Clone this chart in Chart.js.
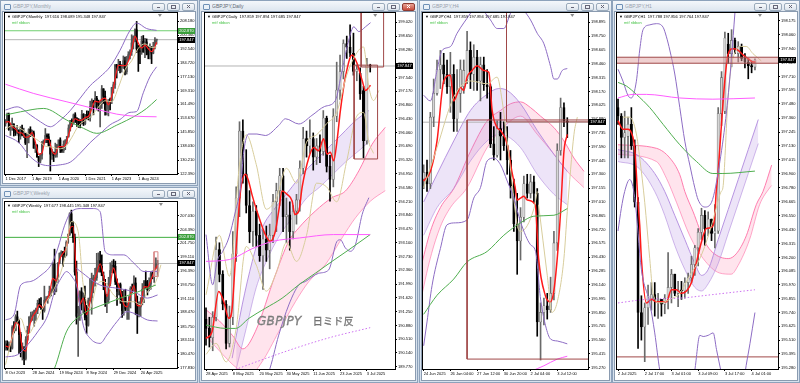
<!DOCTYPE html>
<html>
<head>
<meta charset="utf-8">
<script src="https://cdn.jsdelivr.net/npm/chart.js@4.4.1/dist/chart.umd.min.js"></script>
<style>
html,body{margin:0;padding:0}
body{width:800px;height:383px;background:#cbd8e6;position:relative;overflow:hidden;font-family:"Liberation Sans",Arial,sans-serif}
.win{position:absolute;box-sizing:border-box;border:1px solid #8da2bb;background:#d7e2ee}
.tb{position:absolute;left:0;right:0;top:0;height:11px;background:linear-gradient(#f4f7fb,#dbe4ee)}
.ic{position:absolute;left:3px;top:3px;width:5px;height:4px;border:1px solid #6f90b6;border-radius:1px;background:#eaf1f8}
.tt{position:absolute;left:12px;top:1px;font-size:10px;line-height:18px;color:#98a2ad;transform:scale(.5);transform-origin:0 0;white-space:nowrap}
.bts{position:absolute;right:2px;top:2px;display:flex;gap:2px}
.bt{width:11px;height:6px;border:1px solid #9aaabb;border-radius:2px;background:linear-gradient(#f8fafc,#dce4ed);position:relative}
.bt.mn::after{content:"";position:absolute;left:4px;top:3px;width:3px;height:1px;background:#667}
.bt.mx::after{content:"";position:absolute;left:3px;top:1px;width:3px;height:2px;border:1px solid #667}
.bt.cl::after{content:"";position:absolute;left:4px;top:1px;width:3px;height:3px;background:linear-gradient(45deg,transparent 40%,#667 40%,#667 60%,transparent 60%),linear-gradient(-45deg,transparent 40%,#667 40%,#667 60%,transparent 60%)}
.bt.act{background:linear-gradient(#e9a597,#c8493a);border-color:#8e3a30}
.bt.act::after{background:linear-gradient(45deg,transparent 40%,#fff 40%,#fff 60%,transparent 60%),linear-gradient(-45deg,transparent 40%,#fff 40%,#fff 60%,transparent 60%)}
.cli{position:absolute;left:1px;right:1px;top:10px;bottom:1px;background:#fff;border:1px solid #8a9bb0}
canvas{position:absolute}
.wm{position:absolute;left:257px;top:313px;font-size:12px;font-style:italic;color:#8a8a8a;white-space:nowrap;font-family:"DejaVu Sans",sans-serif;text-shadow:0 0 1px #fff;-webkit-text-stroke:0.3px #666;letter-spacing:0.3px}
.wm span{font-style:normal;font-size:10px;font-family:"Noto Sans CJK JP",sans-serif;margin-left:11px}
</style>
</head>
<body>

<div class="win" style="left:0;top:0;width:198px;height:186px"><div class="tb"><div class="ic"></div><div class="tt">GBPJPY,Monthly</div><div class="bts"><div class="bt mn"></div><div class="bt mx"></div><div class="bt cl"></div></div></div><div class="cli"></div></div>
<div class="win" style="left:0;top:187px;width:198px;height:196px"><div class="tb"><div class="ic"></div><div class="tt">GBPJPY,Weekly</div><div class="bts"><div class="bt mn"></div><div class="bt mx"></div><div class="bt cl"></div></div></div><div class="cli"></div></div>
<div class="win" style="left:199px;top:0;width:219px;height:383px"><div class="tb"><div class="ic"></div><div class="tt" style="color:#606a75">GBPJPY,Daily</div><div class="bts"><div class="bt mn"></div><div class="bt mx"></div><div class="bt cl act"></div></div></div><div class="cli"></div></div>
<div class="win" style="left:419px;top:0;width:193px;height:383px"><div class="tb"><div class="ic"></div><div class="tt">GBPJPY,H4</div><div class="bts"><div class="bt mn"></div><div class="bt mx"></div><div class="bt cl"></div></div></div><div class="cli"></div></div>
<div class="win" style="left:612px;top:0;width:188px;height:383px"><div class="tb"><div class="ic"></div><div class="tt">GBPJPY,H1</div><div class="bts"><div class="bt mn"></div><div class="bt mx"></div><div class="bt cl"></div></div></div><div class="cli"></div></div>

<canvas id="cM" width="192" height="171" style="left:3px;top:12px"></canvas>
<canvas id="cW" width="192" height="181" style="left:3px;top:199px"></canvas>
<canvas id="cD" width="213" height="368" style="left:202px;top:12px"></canvas>
<canvas id="cH4" width="187" height="368" style="left:422px;top:12px"></canvas>
<canvas id="cH1" width="182" height="368" style="left:615px;top:12px"></canvas>
<div class="wm">GBPJPY<span>日ミド反</span></div>

<script>
// ---------- Monthly ----------
const monthlyOHLC = [
[150.6,152.9,149.2,152.1],[152.1,156.6,151.5,155.9],[155.9,156.6,146.9,147.3],[147.3,150.9,144.0,149.1],[149.1,153.8,146.8,150.4],
[150.4,150.6,143.7,147.2],[147.2,148.2,144.0,145.6],[145.6,149.7,144.9,146.9],[146.9,147.2,139.9,143.8],[143.8,149.0,141.9,148.1],
[148.1,149.8,143.7,144.2],[144.2,148.1,142.8,145.0],[145.0,145.3,138.9,139.8],[139.8,144.8,131.5,142.7],[142.7,147.8,139.8,147.4],
[147.4,148.9,143.4,144.0],[144.0,147.0,143.7,145.5],[145.5,146.5,136.8,136.9],[136.9,138.9,134.4,138.4],[138.4,138.9,131.6,132.1],
[132.1,132.2,126.5,129.7],[129.7,133.9,128.7,132.9],[132.9,140.7,130.7,140.0],[140.0,141.0,138.2,141.5],[141.5,147.9,139.9,144.0],
[144.0,144.9,140.0,143.3],[143.3,144.9,138.6,138.0],[138.0,141.4,124.0,133.5],[133.5,136.4,130.6,134.5],[134.5,134.7,129.3,132.6],
[132.6,139.7,131.7,133.4],[133.4,139.0,131.8,138.5],[138.5,141.4,137.4,141.5],[141.5,142.7,134.4,136.2],[136.2,137.6,134.5,135.5],
[135.5,141.0,134.4,139.0],[139.0,141.7,136.0,141.1],[141.1,143.0,139.3,143.5],[143.5,150.0,143.0,148.2],[148.2,152.5,146.5,152.4],
[152.4,153.4,149.0,151.1],[151.1,156.1,150.3,155.6],[155.6,156.8,151.3,153.4],[153.4,154.0,149.1,152.6],[152.6,153.5,148.5,151.4],
[151.4,152.9,148.3,150.5],[150.5,158.2,150.5,155.9],[155.9,156.3,149.6,150.6],[150.6,155.7,150.0,155.8],[155.8,157.8,153.0,154.5],
[154.5,157.7,152.7,154.0],[154.0,163.4,152.1,160.3],[160.3,164.6,159.0,162.7],[162.7,163.8,155.6,162.3],[162.3,168.7,159.7,164.9],
[164.9,166.0,158.4,162.4],[162.4,163.9,157.7,161.2],[161.2,163.4,148.8,161.6],[161.6,172.1,159.2,170.2],[170.2,170.3,162.0,166.0],
[166.0,169.0,155.4,158.7],[158.7,163.0,155.5,161.0],[161.0,163.8,155.0,164.2],[164.2,165.0,158.3,163.5],[163.5,171.1,161.9,170.9],
[170.9,174.0,167.8,172.5],[172.5,184.0,170.5,183.5],[183.5,184.0,176.3,182.8],[182.8,186.8,180.4,184.0],[184.0,185.7,179.2,182.1],
[182.1,183.8,179.6,183.8],[183.8,188.7,181.6,186.0],[186.0,188.0,178.0,179.8],[179.8,188.3,178.5,188.3],[188.3,191.1,186.1,189.4],
[189.4,192.2,187.1,191.0],[191.0,200.6,189.0,196.0],[196.0,200.0,192.6,199.8],[199.8,203.9,196.8,203.4],[203.4,208.1,190.6,192.7],
[192.7,194.6,180.0,191.6],[191.6,194.2,184.4,191.1],[191.1,199.8,189.6,197.0],[197.0,200.2,190.8,190.9],[190.9,198.6,187.7,196.6],
[196.6,198.3,189.3,192.4],[192.4,193.9,187.1,189.5],[189.5,195.5,187.1,193.6],[193.6,194.0,184.4,190.3],[190.3,196.4,189.9,193.9],
[193.9,199.0,192.7,197.6],[197.616,198.089,195.348,197.847]
];
const monthlyTicks = [208.180,200.360,192.540,184.720,177.130,169.310,161.490,153.670,145.850,138.030,130.210,122.390];
const monthlyDates = [[0,'1 Dec 2017'],[16,'1 Apr 2019'],[32,'1 Aug 2020'],[48,'1 Dec 2021'],[64,'1 Apr 2023'],[80,'1 Aug 2024']];
const monthlyRed = [[0,151.5],[2,151.8],[4,149.0],[6,147.6],[8,145.5],[10,145.4],[12,143.0],[14,143.3],[16,145.6],[18,140.3],[20,133.4],[22,134.2],[24,141.8],[26,141.8],[28,135.3],[30,133.5],[32,137.8],[34,137.7],[36,138.5],[38,144.3],[40,150.6],[42,153.4],[44,152.5],[46,152.6],[48,154.1],[50,154.8],[52,159.0],[54,163.3],[56,162.8],[58,164.3],[60,165.0],[62,161.2],[64,166.2],[66,175.6],[68,183.4],[70,183.3],[72,183.2],[74,185.8],[76,192.1],[78,199.7],[80,195.9],[82,193.2],[84,194.8],[86,192.8],[88,191.1],[90,193.9],[91,196.4]];
const monthlyTan = [[0,147.5],[4,149.5],[8,148.5],[12,146.0],[16,143.5],[20,141.0],[24,138.0],[28,137.5],[32,136.5],[36,137.5],[40,143.0],[44,149.5],[48,152.5],[52,155.0],[56,160.0],[60,163.5],[64,163.0],[68,171.0],[72,181.0],[76,186.0],[80,193.0],[84,195.5],[88,193.5],[91,193.8]];
const monthlyUpper = [[0,158.3],[7,160.1],[15,155.5],[21,151.7],[27,148.9],[33,152.6],[39,158.0],[45,165.0],[51,172.0],[57,177.0],[63,182.6],[69,191.9],[75,203.1],[79,207.2],[85,204.1],[91,203.1]];
const monthlyLower = [[0,144.0],[8,140.0],[15,132.0],[21,128.0],[27,127.0],[33,127.5],[39,129.0],[45,134.0],[51,140.0],[57,145.0],[63,150.0],[69,153.0],[75,157.0],[79,157.5],[83,168.0],[87,177.0],[91,182.6]];
const monthlyMagenta = [[0,172.8],[17,167.6],[37,162.9],[53,159.2],[67,156.0],[77,154.9],[91,154.5]];
const monthlyGreen = [[0,155.5],[9,157.3],[23,159.2],[37,152.6],[47,148.0],[55,145.2],[67,149.8],[79,155.5],[85,159.2],[91,164.2]];

// ---------- Weekly ----------
const weeklyOHLC = [
[181.8,183.0,181.2,182.4],[182.4,183.0,181.2,181.6],[181.6,182.8,181.0,181.8],[181.8,182.3,180.9,181.6],[181.6,185.9,181.4,185.6],
[185.6,186.7,184.5,185.0],[185.0,188.0,184.9,187.6],[187.6,188.7,186.3,186.7],[186.7,187.0,180.5,184.2],[184.2,184.6,179.9,181.2],
[181.2,182.6,179.3,181.5],[181.5,181.9,178.4,179.6],[179.6,183.8,179.3,183.2],[183.2,185.8,183.0,185.0],[185.0,187.6,184.4,187.6],
[187.6,188.5,186.6,187.9],[187.9,188.6,186.9,187.9],[187.9,188.9,185.8,188.8],[188.8,189.3,186.9,188.9],[188.9,190.8,188.2,190.2],
[190.2,191.1,189.4,190.0],[190.0,191.3,189.0,189.4],[189.4,189.5,187.1,188.8],[188.8,193.5,188.5,190.8],[190.8,191.5,190.5,191.0],
[191.0,191.6,190.2,191.5],[191.5,193.5,191.2,192.5],[192.5,193.0,191.6,192.7],[192.7,198.0,192.3,197.7],[197.7,200.6,191.9,192.5],
[192.5,194.9,192.4,194.8],[194.8,198.0,194.2,197.9],[197.9,199.9,197.8,199.8],[199.8,200.3,199.2,200.0],[200.0,200.2,197.3,199.6],
[199.6,201.0,199.0,199.5],[199.5,202.2,199.3,201.9],[201.9,203.5,201.7,203.4],[203.4,207.6,203.2,207.4],[207.4,208.1,203.7,205.2],
[205.2,205.9,201.9,202.8],[202.8,203.5,195.6,196.2],[196.2,198.3,186.2,187.7],[187.7,189.6,180.0,188.2],[188.2,192.6,186.9,192.4],
[192.4,193.2,188.9,190.2],[190.2,192.2,188.4,191.4],[191.4,193.5,187.0,187.5],[187.5,189.8,184.4,186.0],[186.0,191.2,185.8,190.7],
[190.7,195.0,190.6,191.3],[191.3,196.0,188.1,194.9],[194.9,195.6,192.2,194.9],[194.9,196.9,193.5,195.1],[195.1,199.8,194.6,197.1],
[197.1,199.9,196.2,198.4],[198.4,200.2,196.2,197.3],[197.3,199.5,195.5,195.5],[195.5,196.2,192.8,193.7],[193.7,194.8,189.6,190.4],
[190.4,191.9,188.4,190.9],[190.9,195.2,190.2,194.0],[194.0,198.0,193.6,196.5],[196.5,198.3,196.1,197.5],[197.5,198.6,196.0,197.3],
[197.3,198.3,193.8,194.3],[194.3,194.9,189.8,192.5],[192.5,194.0,191.8,193.8],[193.8,194.1,190.2,191.8],[191.8,192.5,187.5,188.8],
[188.8,192.7,187.9,191.4],[191.4,192.9,188.8,189.1],[189.1,190.3,187.1,189.5],[189.5,191.5,187.1,190.5],[190.5,193.4,189.3,193.1],
[193.1,193.9,192.3,193.0],[193.0,195.5,192.6,194.1],[194.1,195.1,188.0,190.3],[190.3,191.6,184.4,188.0],[188.0,190.5,187.6,189.5],
[189.5,191.3,187.7,190.5],[190.5,194.0,189.9,192.9],[192.9,194.6,190.3,194.4],[194.4,196.4,193.1,193.5],[193.5,194.6,191.8,192.8],
[192.8,195.1,192.6,193.9],[193.9,196.2,192.9,195.9],[195.9,196.4,194.9,195.4],[195.4,197.9,194.2,197.1],[197.1,198.95,196.9,197.7],
[197.677,198.445,195.348,197.847]
];
const weeklyTicks = [207.030,204.390,201.750,199.110,196.390,193.750,191.110,188.470,185.750,183.110,180.470,177.830];
const weeklyDates = [[0,'8 Oct 2023'],[16,'28 Jan 2024'],[32,'19 May 2024'],[48,'8 Sep 2024'],[64,'29 Dec 2024'],[80,'20 Apr 2025']];
const weeklyRed = [[0,182.0],[2,181.8],[4,183.8],[6,186.5],[8,186.0],[10,181.5],[12,181.0],[14,185.5],[16,187.6],[18,188.6],[20,189.9],[22,189.3],[24,190.6],[26,192.0],[28,195.0],[30,194.5],[32,198.5],[34,199.8],[36,200.9],[38,204.5],[40,205.0],[42,195.5],[44,190.0],[46,191.2],[48,188.0],[50,190.5],[52,194.0],[54,196.0],[56,197.8],[58,195.5],[60,191.5],[62,194.0],[64,197.0],[66,194.5],[68,192.6],[70,190.0],[72,189.5],[74,191.8],[76,193.6],[78,189.8],[80,189.7],[82,193.4],[84,193.3],[86,194.6],[88,196.3],[90,197.5]];
const weeklyTan = [[0,178.4],[5,184.8],[9,187.3],[13,184.1],[17,186.0],[23,189.9],[29,193.1],[35,198.8],[39,205.9],[43,204.0],[46,193.7],[50,189.2],[54,193.7],[58,194.4],[64,191.8],[70,190.5],[76,190.5],[80,189.9],[84,192.4],[89,194.4],[92,197.6]];
const weeklyUpper = [[0,187.0],[5,188.0],[9,193.7],[15,194.4],[21,195.6],[27,197.6],[31,200.8],[35,205.2],[39,207.8],[45,208.4],[52,208.4],[56,207.8],[59,200.1],[64,199.5],[70,199.5],[76,197.9],[82,196.3],[90,196.3]];
const weeklyLower = [[0,179.9],[7,180.3],[13,182.2],[19,184.7],[25,187.9],[29,192.4],[34,195.6],[36,196.3],[40,195.0],[42,193.7],[46,186.0],[50,183.5],[56,182.5],[60,184.1],[66,186.7],[72,188.6],[78,188.0],[84,187.0],[90,186.8]];
const weeklyMidPurple = [[42,196.9],[56,193.7],[66,193.1],[76,192.4],[84,191.2],[90,191.8]];
const weeklyGreen = [[25,175.5],[29,177.7],[36,184.7],[45,188.0],[52,189.2],[60,190.2],[68,191.2],[76,192.1],[84,193.1],[89,193.7]];

// ---------- Daily ----------
const dailyOHLC = [
[191.05,191.35,190.35,190.80],[190.80,191.10,190.30,190.55],[190.55,191.25,190.20,191.10],[191.10,193.25,191.00,192.92],[192.92,193.10,192.05,192.25],
[192.25,192.35,191.30,191.45],[191.45,191.55,190.25,190.40],[190.40,191.40,190.30,191.10],[191.10,193.40,190.90,192.80],[192.80,194.60,192.60,194.30],
[194.30,196.35,193.80,196.10],[196.10,196.40,194.70,194.95],[194.95,195.60,193.90,194.10],[194.10,194.50,193.10,193.40],[193.40,194.20,193.00,193.95],
[193.95,194.10,193.00,193.30],[193.30,193.60,192.60,192.75],[192.75,193.45,191.85,193.20],[193.20,193.55,192.60,192.90],[192.90,193.60,192.40,193.30],
[193.30,194.40,193.10,194.20],[194.20,194.70,193.40,194.50],[194.50,195.10,194.10,194.90],[194.90,195.10,193.40,193.80],[193.80,194.30,193.10,193.85],
[193.85,194.20,192.90,193.40],[193.40,194.10,193.20,193.95],[193.95,194.40,193.60,194.25],[194.25,195.30,193.95,195.10],[195.10,196.20,194.95,195.90],
[195.90,196.10,195.40,195.70],[195.70,196.40,195.50,195.90],[195.90,196.05,195.05,195.40],[195.40,195.90,195.20,195.70],[195.70,196.00,195.25,195.55],
[195.55,196.65,195.45,196.45],[196.45,196.50,195.00,195.15],[195.15,195.45,194.22,194.80],[194.80,196.70,194.60,196.50],[196.50,197.95,196.35,197.20],
[197.20,198.14,196.95,197.70],[197.70,198.55,197.50,198.45],[198.45,198.65,198.05,198.35],[198.35,198.95,198.10,198.19],[198.19,198.73,197.60,197.70],
[197.70,197.87,197.45,197.76],[197.65,197.80,196.95,197.10],[197.19,197.30,195.38,195.84],[195.84,198.05,195.75,197.86],[197.859,197.894,197.685,197.847]
];
const dailyTicks = [199.020,198.650,198.280,197.910,197.540,197.170,196.800,196.430,196.060,195.690,195.320,194.950,194.580,194.210,193.840,193.470,193.100,192.730,192.360,191.990,191.620,191.250,190.880,190.510,190.140,189.770];
const dailyDates = [[0,'28 Apr 2025'],[8,'8 May 2025'],[16,'20 May 2025'],[24,'30 May 2025'],[32,'11 Jun 2025'],[40,'23 Jun 2025'],[48,'3 Jul 2025']];
const dailyRed = [[0,190.53],[1.8,190.71],[3.8,191.79],[5.3,191.52],[6.8,191.07],[7.8,191.34],[8.8,192.69],[10.3,194.49],[11.8,194.94],[12.7,194.76],[13.7,194.40],[15.2,193.95],[17.7,193.32],[19.2,193.14],[20.7,193.41],[21.7,193.95],[22.7,194.49],[24.2,194.40],[25.7,194.22],[26.5,193.86],[27.7,193.95],[28.7,194.6],[30.7,195.39],[32.1,195.66],[33.6,195.57],[35.1,195.89],[36.1,195.48],[37.1,195.53],[38.1,195.30],[39.1,195.84],[40.1,196.65],[41.6,197.55],[43.6,198.14],[45.1,197.91],[46.6,197.46],[47.6,197.19],[49.1,197.33]];
const dailyTanUp = [[0,191.7],[4,193.3],[7,192.2],[10,195.2],[12,196.0],[15,195.2],[18,194.0],[21,194.3],[24,195.1],[27,194.7],[30,195.8],[33,196.0],[36,196.3],[39,196.6],[42,197.6],[45,198.2],[47,198.36],[48.6,197.28],[50,196.92],[51.6,197.19]];
const dailyTanLo = [[0,190.1],[3,190.4],[6,189.9],[9,190.8],[12,193.0],[15,192.5],[18,191.8],[21,192.3],[24,193.1],[27,192.6],[30,193.3],[33,194.7],[36,194.6],[39,194.2],[42,195.3],[45,196.5],[47,196.6],[48.6,195.8],[50,195.5]];
const dailyUpper = [[0,193.32],[2,191.97],[3.3,192.60],[5,192.87],[6.8,193.23],[8.8,193.95],[10.3,194.58],[11.3,195.57],[12.7,196.02],[15.2,196.02],[17.7,195.98],[21.7,196.25],[23.7,196.43],[27.7,196.29],[31.6,196.52],[35.4,196.76],[38.6,196.92],[40.6,197.73],[42.6,198.54],[44.1,198.90],[45.6,198.77],[47.6,198.90],[49.1,199.01]];
const dailyLower = [[8,188.6],[14,189.1],[18.7,189.63],[21.7,190.62],[24.7,191.43],[27.7,191.97],[29.7,192.06],[33.6,192.28],[36.6,192.37],[39.1,193.14],[40.1,193.18],[41.6,192.96],[43.1,192.87],[44.6,193.05],[46.6,193.86],[48.6,194.31]];
const dailyMagenta = [[0,192.60],[7,192.65],[14,192.95],[20,193.14],[28,193.23],[38,193.32],[49,193.32]];
const dailyGreen = [[0,190.89],[5.8,190.80],[8.8,190.80],[12.8,191.07],[17.7,191.34],[22.7,191.61],[27.7,191.97],[32.6,192.28],[37.6,192.60],[42.6,192.91],[49,193.32]];
const dailyDotted = [[6.8,189.63],[17.7,189.99],[27.7,190.30],[37.6,190.57],[49,190.82]];
const dailyPinkUp = [[0,191.3],[4,191.0],[8,190.6],[11,190.25],[14.7,190.71],[20.7,192.24],[24.7,193.14],[27.7,193.5],[32.6,193.95],[37.6,194.31],[41.6,194.49],[45.6,195.03],[49.6,195.75],[53.5,196.2]];
const dailyPinkLo = [[0,190.6],[5,190.1],[9,189.75],[13,189.55],[16.7,189.9],[21.7,190.71],[26.7,191.52],[30.7,192.06],[35.6,192.51],[40.6,193.23],[44.6,193.77],[49.1,194.22],[53.5,194.5]];
const dailyLavUp = [[7.8,190.0],[10.8,191.43],[13.8,192.6],[16.8,193.5],[20.7,194.04],[24.7,194.49],[28.7,194.94],[32.6,195.3],[36.6,195.66],[40.6,196.02],[44.6,196.38],[48.6,196.65]];
const dailyLavLo = [[9,189.7],[12,190.8],[15,191.9],[18,192.6],[22,193.3],[26,193.8],[30,194.3],[34,194.6],[38,194.95],[42,195.3],[46,195.6],[49,195.85]];
const dailyRects = [[46.3,53,197.82,199.6],[44.2,51.2,195.35,197.87]];

// ---------- H4 ----------
const h4OHLC = [
[197.25,197.40,197.15,197.32],[197.32,197.45,197.12,197.20],[197.20,197.95,197.15,197.90],[197.90,198.30,197.80,198.15],[198.15,198.50,198.13,198.40],
[198.40,198.60,198.20,198.45],[198.45,198.57,198.25,198.35],[198.35,198.50,198.15,198.22],[198.22,198.58,197.95,198.35],[198.35,198.45,197.75,197.88],
[197.88,198.40,197.75,198.15],[198.15,198.50,197.95,198.40],[198.22,198.50,198.15,198.39],[198.30,198.80,198.25,198.60],[198.60,198.69,198.20,198.35],
[198.35,198.66,198.18,198.53],[198.53,198.60,198.18,198.28],[198.28,198.53,198.07,198.45],[198.45,198.53,198.18,198.24],[198.24,198.40,198.10,198.22],
[198.22,198.24,197.58,197.62],[197.62,197.80,197.45,197.50],[197.50,197.86,197.48,197.78],[197.78,197.95,197.45,197.70],[197.70,197.85,197.55,197.60],
[197.60,197.80,197.30,197.45],[197.45,197.55,197.05,197.18],[197.18,197.25,196.70,196.78],[196.78,197.10,196.25,196.60],[196.60,196.95,196.40,196.85],
[196.85,197.28,196.80,197.20],[197.20,197.30,197.05,197.10],[197.10,197.30,197.05,197.22],[197.22,197.28,197.00,197.10],[197.10,197.15,195.60,195.75],
[195.75,195.95,195.35,195.85],[195.85,196.00,195.72,195.92],[195.92,196.05,195.78,195.88],[195.88,196.22,195.85,196.05],[196.05,196.70,195.98,196.58],
[196.58,197.62,196.50,197.55],[197.55,198.10,197.50,198.00],[198.00,198.05,197.80,197.86],[197.859,197.894,197.685,197.847]
];
const h4Ticks = [198.895,198.750,198.605,198.460,198.315,198.170,198.025,197.880,197.735,197.590,197.445,197.300,197.155,197.010,196.865,196.720,196.575,196.430,196.285,196.140,195.995,195.850,195.705,195.560,195.415,195.270];
const h4Dates = [[0,'24 Jun 2025'],[8,'26 Jun 04:00'],[16,'27 Jun 12:00'],[24,'30 Jun 20:00'],[32,'2 Jul 04:00'],[40,'3 Jul 12:00']];
const h4Red = [[0,197.23],[2,197.33],[4,197.65],[6,198.28],[8,198.34],[9,198.07],[10,198.14],[11,198.21],[12,198.18],[13,198.32],[14.5,198.39],[16,198.44],[18,198.39],[19.5,198.37],[20.5,197.97],[22,197.79],[23,197.76],[25,197.62],[26.4,197.33],[27.4,197.16],[28,197.03],[29,197.05],[30,197.07],[31,197.03],[33.4,196.98],[34.4,196.42],[36.4,196.03],[37.9,195.96],[38.9,196.06],[40,196.42],[41,196.91],[42,197.54],[43,197.72]];
const h4Upper = [[0,198.13],[2,198.07],[4,198.39],[5.5,198.60],[8,198.64],[10,198.78],[14,198.99],[16,199.10],[18.5,198.99],[20,198.92],[22,198.83],[24,198.83],[26,198.99],[28,199.10],[30,199.02],[32,198.92],[34,198.78],[36,198.67],[38,198.43],[39,198.30],[40,198.30],[41.5,198.39],[43,198.41]];
const h4Lower = [[0,195.50],[1,195.75],[2.5,196.13],[5,196.52],[7,196.77],[9.5,196.79],[13,196.82],[15,197.05],[17,197.16],[19,197.44],[21,197.47],[23,197.40],[25,197.23],[27,197.05],[29,196.80],[32,196.56],[33.5,196.49],[35,195.99],[36.5,195.71],[38,195.57],[40,195.55],[43,195.52]];
const h4Green = [[0,195.83],[4,196.03],[9,196.20],[13,196.38],[19,196.49],[24,196.66],[29,196.79],[33,196.86],[39,196.87],[43,196.94]];
const h4Magenta = [[32,195.23],[36,195.29],[40,195.36],[43,195.39]];
const h4Tan1 = [[0,197.16],[4,197.58],[9,198.11],[14,198.28],[19,198.25],[22,198.32],[23.5,198.07],[25,197.65],[26.4,197.23],[28,196.77],[29,196.70],[33,196.94],[34,197.12]];
const h4Tan2 = [[34.4,196.98],[37,196.24],[38.4,195.85],[40,195.96],[42,196.42],[43,196.91],[45,197.72],[46,197.90]];
const h4LavUp = [[0,197.01],[4,197.30],[9,197.65],[14,197.97],[19,198.14],[22.5,198.20],[25,198.18],[29,198.04],[34,197.76],[39,197.51],[43,197.33]];
const h4LavLo = [[0,196.66],[4,196.95],[9,197.15],[14,197.44],[19,197.65],[22.5,197.72],[25,197.70],[29,197.58],[34,197.30],[39,197.09],[43,196.98]];
const h4PinkUp = [[-1,196.3],[2,196.7],[5,196.95],[9,197.15],[14,197.54],[19,197.86],[23,197.97],[26,198.04],[29,198.06],[32,198.00],[35,197.91],[39,197.79],[42,197.65],[45,197.47],[48,197.33]];
const h4PinkLo = [[-1,195.96],[2,196.42],[5,196.75],[8,196.95],[13,197.16],[19,197.58],[25,197.83],[29,197.91],[34,197.72],[39,197.51],[43,197.33],[48,197.16]];
const h4Rects = [[24.8,50,197.85,199.2],[13,50,195.36,197.87]];

// ---------- H1 ----------
const h1OHLC = [
[197.45,197.52,197.31,197.38],[197.38,197.40,197.03,197.20],[197.20,197.42,197.03,197.24],[197.21,197.37,197.03,197.31],[197.31,197.45,197.10,197.13],
[197.13,197.18,196.62,196.66],[196.66,196.70,195.44,195.74],[195.74,195.88,195.51,195.62],[195.62,195.82,195.33,195.78],[195.78,195.97,195.64,195.88],
[195.85,195.99,195.76,195.89],[195.89,195.99,195.71,195.84],[195.84,195.90,195.69,195.85],[195.85,195.85,195.71,195.81],[195.81,195.89,195.73,195.86],
[195.86,196.24,195.77,195.95],[195.95,196.10,195.82,196.06],[196.06,196.06,195.88,195.90],[195.90,196.00,195.79,195.93],[195.93,196.00,195.85,195.92],
[195.92,196.03,195.86,195.99],[195.99,196.07,195.90,196.03],[196.03,196.21,195.99,196.14],[196.14,196.30,196.05,196.28],[196.28,196.44,196.13,196.41],
[196.41,196.61,196.35,196.55],[196.55,196.59,196.30,196.44],[196.44,196.58,196.38,196.52],[196.52,196.52,196.34,196.40],[196.40,196.64,196.28,196.42],
[196.42,197.45,196.40,197.40],[197.40,197.75,197.30,197.70],[197.42,198.08,197.40,198.03],[197.98,198.07,197.82,197.90],[197.90,198.10,197.79,198.01],
[198.01,198.03,197.90,197.93],[197.90,198.00,197.83,197.96],[197.96,197.98,197.84,197.86],[197.86,197.90,197.78,197.83],[197.83,197.86,197.69,197.80],
[197.80,197.84,197.74,197.79],[197.788,197.856,197.764,197.847]
];
const h1Ticks = [198.175,198.060,197.940,197.825,197.710,197.595,197.480,197.360,197.245,197.130,197.015,196.900,196.780,196.665,196.550,196.430,196.315,196.200,196.085,195.970,195.855,195.740,195.625,195.510,195.395,195.280];
const h1Dates = [[0,'2 Jul 2025'],[8,'2 Jul 17:00'],[16,'3 Jul 01:00'],[24,'3 Jul 09:00'],[32,'3 Jul 17:00'],[40,'4 Jul 01:00']];
const h1Red = [[0,197.34],[1.5,197.27],[3,197.27],[4,197.24],[5,197.11],[6,196.66],[6.5,196.47],[7,196.19],[8.5,195.82],[10,195.85],[11.5,195.83],[13,195.83],[14.5,195.83],[16,195.93],[17.5,195.93],[19,195.90],[20.5,195.92],[22,195.99],[23.5,196.16],[25,196.33],[26.4,196.44],[27.9,196.45],[28.9,196.52],[29.4,196.75],[29.9,196.89],[30.9,197.28],[31.9,197.65],[32.9,197.89],[34.4,197.94],[35.9,197.93],[37.4,197.89],[38.9,197.86],[40.4,197.83],[41.2,197.83]];
const h1Upper = [[0,197.77],[1.5,197.67],[3,197.55],[4,197.53],[5.5,197.67],[6.5,197.93],[7.5,198.10],[9.5,198.14],[11.5,198.15],[13.5,198.12],[14.5,198.04],[15.5,197.93],[17,197.73],[18.5,197.45],[20,197.17],[21.5,196.97],[23,196.78],[24,196.68],[26,196.62],[28,196.66],[30.5,197.00],[32.5,197.42],[34,197.87],[35,198.24],[36,198.6],[41,198.9]];
const h1Lower = [[0,196.42],[1,196.61],[2,196.75],[3.5,196.85],[5,196.70],[7,196.10],[9.5,195.82],[11,195.57],[12.5,195.26],[14,195.10],[22,195.10],[23,195.26],[24.5,195.55],[25.5,195.54],[27,195.55],[28.5,195.57],[29.5,195.43],[31,195.23],[33,195.00],[37,195.00],[38,195.23],[39.5,195.48],[41,195.74]];
const h1Green = [[0,197.66],[2.5,197.63],[5.5,197.56],[9.5,197.45],[13.5,197.31],[18.5,197.14],[23.5,197.00],[28.4,196.90],[31.4,196.90],[41,196.92]];
const h1Magenta = [[0,197.53],[4.5,197.56],[8.5,197.56],[18.5,197.53],[28.4,197.52],[41,197.53]];
const h1Dotted = [[0,195.82],[8.5,195.85],[18.5,195.86],[28.4,195.89],[41,195.93]];
const h1Tan = [[1.5,197.37],[3.5,197.37],[5.5,197.23],[6.5,197.03],[8,196.66],[9.5,196.19],[10.5,195.90],[12.5,195.82],[15.5,195.85],[18.5,195.90],[21.5,196.05],[24.5,196.19],[27.4,196.41],[29.4,196.61],[30.9,196.75],[31.4,196.78],[32.9,197.51],[33.9,197.79],[35.4,197.93],[36.9,197.96],[38.4,197.96],[40.4,197.90],[42.9,197.84]];
const h1PinkUp = [[0,197.14],[11.5,197.11],[15.5,197.03],[18.5,196.89],[20,196.75],[22.5,196.58],[26,196.33],[28.4,196.24],[33,196.19],[35.4,196.23],[38.4,196.38],[41.4,196.64],[43.4,196.75],[46,196.97]];
const h1PinkLo = [[0,197.06],[11.5,197.00],[14.5,196.86],[17.5,196.66],[21.5,196.38],[25.5,196.19],[30.4,196.07],[33.9,196.06],[35.9,196.13],[39.4,196.35],[42.4,196.64],[45.4,196.78],[46,196.80]];
const h1LavUp = [[0,197.10],[6,197.05],[11,196.90],[14,196.75],[17,196.55],[20,196.35],[23,196.15],[25,196.05],[27,196.10],[30,196.35],[33,196.60],[36,196.85],[39,197.10],[42,197.35]];
const h1LavLo = [[0,197.00],[6,196.95],[11,196.75],[14,196.55],[17,196.30],[20,196.10],[23,195.95],[25,195.92],[27,195.98],[30,196.15],[33,196.40],[36,196.65],[39,196.90],[42,197.15]];
const h1Rects = [[-1,49,197.82,197.87]];
const h1Level = 195.37;

const lastPrice = 197.847;
const greenLevel = 202.870;

// ---------- drawing helpers ----------
const FONT = '"Liberation Sans","DejaVu Sans",sans-serif';
const RED = '#ff1a1a', TAN = '#d8cd9c', PURPLE = '#8d6cc4', MAGENTA = '#ff5cff', GREEN = '#4fae4f', RECT = '#a04848';
const PINK_EDGE = '#ff6fa6', PINK_FILL = 'rgba(255,130,175,0.22)';
const LAV_EDGE = '#b089de', LAV_FILL = 'rgba(175,130,225,0.22)';

function line(pts, color, width, extra) {
  return Object.assign({
    type: 'line', data: pts.map(p => ({x: p[0], y: p[1]})), borderColor: color, borderWidth: width,
    pointRadius: 0, cubicInterpolationMode: 'monotone', fill: false, order: 6
  }, extra || {});
}

function rect(r, color, extra) {
  return line([[r[0], r[2]], [r[1], r[2]], [r[1], r[3]], [r[0], r[3]], [r[0], r[2]]], color, 1,
    Object.assign({cubicInterpolationMode: 'default', tension: 0, order: 2}, extra || {}));
}

const mtPlugin = {
  id: 'mt',
  afterDraw(chart, args, o) {
    if (!o.info) return;
    const {ctx, chartArea: a} = chart;
    const xs = chart.scales.x, ys = chart.scales.y;
    ctx.save();
    ctx.strokeStyle = '#000'; ctx.lineWidth = 1;
    ctx.strokeRect(Math.round(a.left) - 0.5, Math.round(a.top) - 0.5, Math.round(a.right - a.left) + 1, Math.round(a.bottom - a.top) + 1);
    ctx.font = '4px ' + FONT;
    ctx.textBaseline = 'middle';
    for (const t of o.tags || []) {
      const py = Math.round(ys.getPixelForValue(t.v));
      ctx.fillStyle = t.bg;
      ctx.fillRect(a.right + 1, py - 3, 17, 6);
      ctx.fillStyle = '#fff';
      ctx.fillText(t.v.toFixed(3), a.right + 2.2, py + 0.3);
    }
    ctx.fillStyle = '#000';
    ctx.fillText('\u25BC ' + o.info, a.left + 2, a.top + 3.5);
    ctx.fillStyle = '#49c449';
    ctx.fillText(o.sub, a.left + 7, a.top + 10);
    const sx = xs.getPixelForValue(o.shift);
    ctx.fillStyle = '#8a8a8a';
    ctx.beginPath(); ctx.moveTo(sx - 2, a.top + 1); ctx.lineTo(sx + 2, a.top + 1); ctx.lineTo(sx, a.top + 4); ctx.closePath(); ctx.fill();
    ctx.restore();
  }
};
Chart.register(mtPlugin);

function build(id, o) {
  const ds = [];
  (o.ribbons || []).forEach(r => {
    ds.push(line(r.up, r.edge, 0.9, {order: 40}));
    ds.push(line(r.lo, r.edge, 0.6, {order: 40, fill: '-1', backgroundColor: r.fill}));
  });
  (o.hlines || []).forEach(h => ds.push(line([[o.xmin - 1, h.v], [o.xmax + 1, h.v]], h.c, 1, {order: 30, cubicInterpolationMode: 'default', tension: 0})));
  const up = o.ohlc.map(c => c[3] >= c[0]);
  ds.push({type: 'bar', grouped: false, order: 11, barThickness: o.st.wick,
    data: o.ohlc.map((c, i) => ({x: i, y: [c[2], c[1]]})),
    backgroundColor: up.map(u => u ? o.st.upLine : o.st.dnLine)});
  ds.push({type: 'bar', grouped: false, order: 10, barThickness: o.st.body, minBarLength: 1, borderSkipped: false,
    borderWidth: o.st.bw, data: o.ohlc.map((c, i) => ({x: i, y: [c[0], c[3]]})),
    backgroundColor: up.map(u => u ? o.st.upFill : o.st.dnFill),
    borderColor: up.map(u => u ? o.st.upLine : o.st.dnLine)});
  (o.lines || []).forEach(l => ds.push(line(l.p, l.c, l.w || 1, l.x)));
  (o.rects || []).forEach(r => ds.push(rect(r.r, r.c || RECT, r.x)));

  const dmap = {};
  o.dates.forEach(d => { dmap[d[0]] = d[1]; });

  new Chart(document.getElementById(id), {
    type: 'bar',
    data: {datasets: ds},
    options: {
      responsive: false, animation: false, devicePixelRatio: 1,
      layout: {padding: {left: o.pl, top: o.pt, right: 0, bottom: 0}},
      plugins: {legend: {display: false}, tooltip: {enabled: false},
        mt: {info: o.info, sub: o.sub, tags: o.tags, shift: o.shift}},
      scales: {
        x: {type: 'linear', min: o.xmin, max: o.xmax, offset: false,
          grid: {drawOnChartArea: false, drawTicks: true, tickLength: 2, color: '#000', offset: false},
          border: {display: false},
          ticks: {autoSkip: false, maxRotation: 0, align: 'start', padding: 0, color: '#000',
            font: {size: 4, family: FONT}, callback: v => dmap[v] || ''},
          afterBuildTicks: s => { s.ticks = o.dates.map(d => ({value: d[0]})); },
          afterFit: s => { s.height = o.xH; s.paddingLeft = 0; s.paddingRight = 0; }
        },
        y: {type: 'linear', position: 'right', min: o.ymin, max: o.ymax,
          grid: {drawOnChartArea: false, drawTicks: true, tickLength: 2, color: '#000'},
          border: {display: false},
          ticks: {autoSkip: false, padding: 1, color: '#000', font: {size: 4, family: FONT}, callback: v => v.toFixed(3)},
          afterBuildTicks: s => { s.ticks = o.ticks.map(v => ({value: v})); },
          afterFit: s => { s.width = o.yW; s.paddingTop = 0; s.paddingBottom = 0; }
        }
      }
    }
  });
}

const thin = {wick: 1, body: 1.4, bw: 0, upLine: '#555', dnLine: '#000', upFill: '#555', dnFill: '#000'};
const wide = {wick: 1, body: 2.3, bw: 0.6, upLine: '#6a6a6a', dnLine: '#000', upFill: '#d6d6d6', dnFill: '#000'};
const SUB = 'mtf ribbon';
const pinkRibbon = (up, lo) => ({up: up, lo: lo, edge: PINK_EDGE, fill: PINK_FILL});
const lavRibbon = (up, lo) => ({up: up, lo: lo, edge: LAV_EDGE, fill: LAV_FILL});

build('cM', {
  ohlc: monthlyOHLC, ticks: monthlyTicks, dates: monthlyDates, st: thin,
  xmin: -0.3, xmax: 103.3, ymin: 122.34, ymax: 212.85, pl: 2, pt: 1, yW: 18, xH: 9, shift: 93,
  info: 'GBPJPY,Monthly  197.616 198.089 195.348 197.847', sub: SUB,
  tags: [{v: greenLevel, bg: '#3c9f3c'}, {v: lastPrice, bg: '#000'}],
  hlines: [{v: greenLevel, c: '#6fcf6f'}, {v: lastPrice, c: '#b4b4b4'}],
  lines: [
    {p: monthlyMagenta, c: MAGENTA}, {p: monthlyGreen, c: GREEN},
    {p: monthlyUpper, c: PURPLE}, {p: monthlyLower, c: PURPLE},
    {p: monthlyTan, c: TAN}, {p: monthlyRed, c: RED, w: 1.2}
  ]
});

build('cW', {
  ohlc: weeklyOHLC, ticks: weeklyTicks, dates: weeklyDates, st: thin,
  xmin: -0.3, xmax: 101.5, ymin: 177.77, ymax: 209.66, pl: 2, pt: 3, yW: 18, xH: 12, shift: 92,
  info: 'GBPJPY,Weekly  197.677 198.445 195.348 197.847', sub: SUB,
  tags: [{v: greenLevel, bg: '#3c9f3c'}, {v: lastPrice, bg: '#000'}],
  hlines: [{v: greenLevel, c: '#3fae3f'}, {v: lastPrice, c: '#b4b4b4'}],
  lines: [
    {p: weeklyGreen, c: GREEN}, {p: weeklyUpper, c: PURPLE}, {p: weeklyLower, c: PURPLE},
    {p: weeklyMidPurple, c: PURPLE}, {p: weeklyTan, c: TAN}, {p: weeklyRed, c: RED, w: 1.2}
  ],
  rects: [{r: [87.9, 90.2, 195.35, 200.1], c: '#d88888'}]
});

build('cD', {
  ohlc: dailyOHLC, ticks: dailyTicks, dates: dailyDates, st: wide,
  xmin: -0.3, xmax: 56.4, ymin: 189.71, ymax: 199.27, pl: 3, pt: 1, yW: 20, xH: 11, shift: 50.5,
  info: 'GBPJPY,Daily  197.859 197.894 197.685 197.847', sub: SUB,
  tags: [{v: lastPrice, bg: '#000'}],
  hlines: [{v: lastPrice, c: '#b4b4b4'}],
  ribbons: [pinkRibbon(dailyPinkUp, dailyPinkLo), lavRibbon(dailyLavUp, dailyLavLo)],
  lines: [
    {p: dailyMagenta, c: MAGENTA}, {p: dailyGreen, c: GREEN},
    {p: dailyDotted, c: '#cc70f0', x: {borderDash: [1.5, 2]}},
    {p: dailyUpper, c: PURPLE}, {p: dailyLower, c: PURPLE},
    {p: dailyTanUp, c: TAN}, {p: dailyTanLo, c: TAN},
    {p: dailyRed, c: RED, w: 1.5}
  ],
  rects: dailyRects.map(r => ({r: r}))
});

build('cH4', {
  ohlc: h4OHLC, ticks: h4Ticks, dates: h4Dates, st: wide,
  xmin: -0.2, xmax: 49.2, ymin: 195.256, ymax: 198.993, pl: 1, pt: 1, yW: 21, xH: 11, shift: 44.5,
  info: 'GBPJPY,H4  197.859 197.894 197.685 197.847', sub: SUB,
  tags: [{v: lastPrice, bg: '#000'}],
  hlines: [{v: lastPrice, c: '#b4b4b4'}],
  ribbons: [lavRibbon(h4LavUp, h4LavLo), pinkRibbon(h4PinkUp, h4PinkLo)],
  lines: [
    {p: h4Magenta, c: MAGENTA}, {p: h4Green, c: GREEN},
    {p: h4Upper, c: PURPLE}, {p: h4Lower, c: PURPLE},
    {p: h4Tan1, c: TAN}, {p: h4Tan2, c: TAN},
    {p: h4Red, c: RED, w: 1.5}
  ],
  rects: h4Rects.map(r => ({r: r}))
});

build('cH1', {
  ohlc: h1OHLC, ticks: h1Ticks, dates: h1Dates, st: wide,
  xmin: -0.3, xmax: 47.9, ymin: 195.269, ymax: 198.239, pl: 2, pt: 1, yW: 19, xH: 11, shift: 42.5,
  info: 'GBPJPY,H1  197.788 197.856 197.764 197.847', sub: SUB,
  tags: [{v: lastPrice, bg: '#000'}],
  hlines: [{v: h1Level, c: RECT}],
  ribbons: [lavRibbon(h1LavUp, h1LavLo), pinkRibbon(h1PinkUp, h1PinkLo)],
  lines: [
    {p: h1Magenta, c: MAGENTA}, {p: h1Green, c: GREEN},
    {p: h1Dotted, c: '#cc70f0', x: {borderDash: [1.5, 2]}},
    {p: h1Upper, c: PURPLE}, {p: h1Lower, c: PURPLE},
    {p: h1Tan, c: TAN}, {p: h1Red, c: RED, w: 1.5}
  ],
  rects: h1Rects.map(r => ({r: r, x: {fill: 'shape', backgroundColor: 'rgba(220,150,150,0.45)'}}))
});
</script>
</body>
</html>
